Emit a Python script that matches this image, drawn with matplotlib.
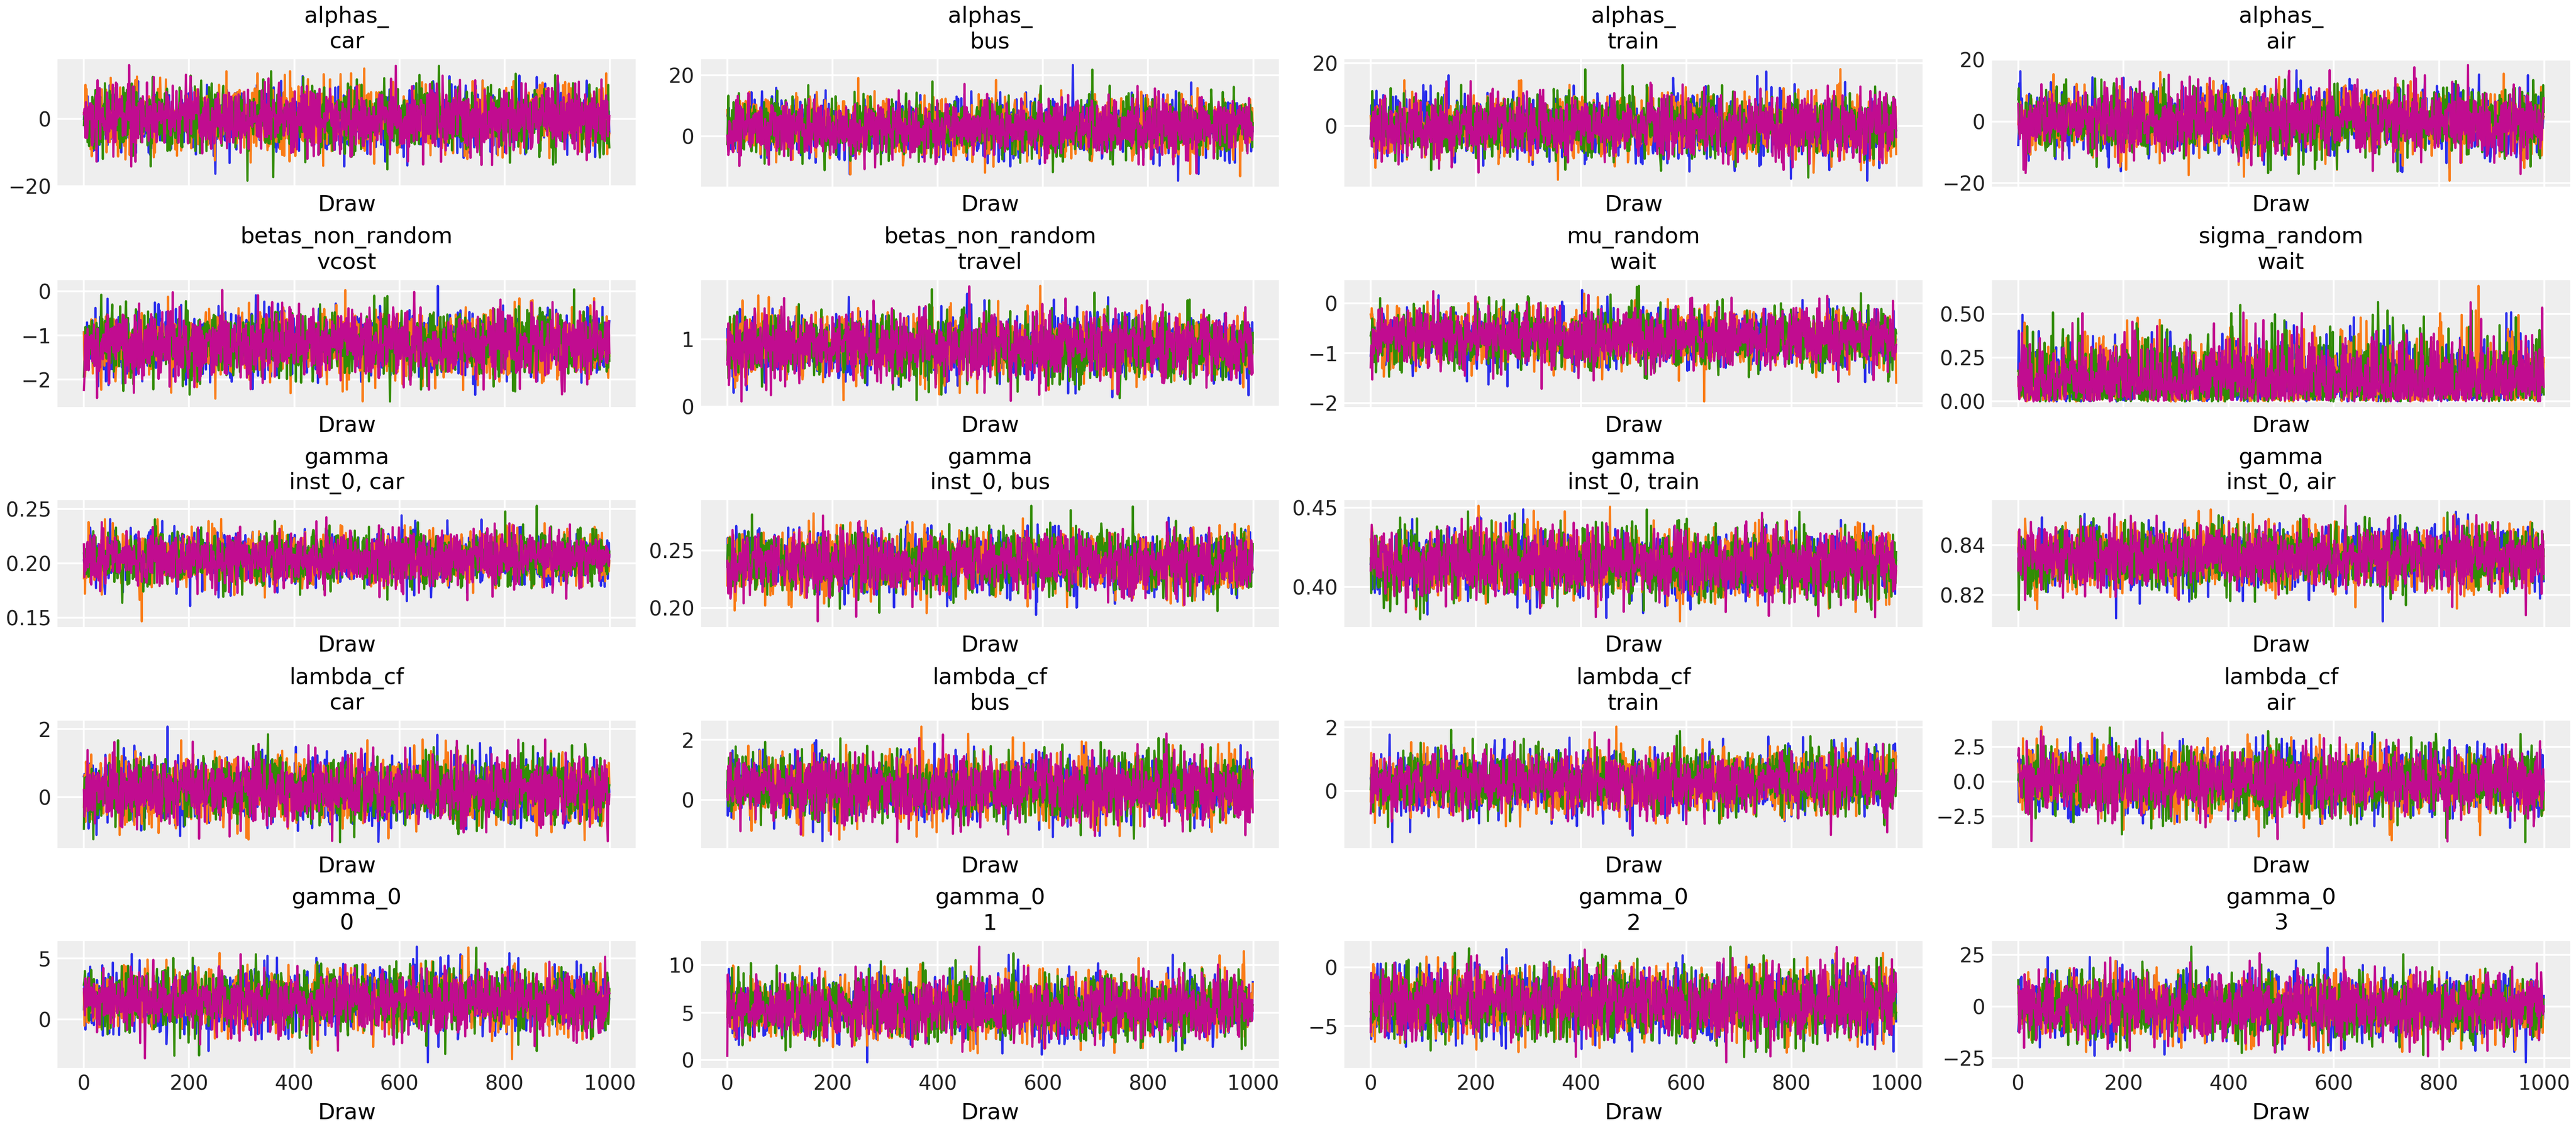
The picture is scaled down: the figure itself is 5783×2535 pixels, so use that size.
import numpy as np
import matplotlib.pyplot as plt

# panel titles (variable, coordinate)
var_names = ["alphas_", "alphas_", "alphas_", "alphas_",
             "betas_non_random", "betas_non_random", "mu_random", "sigma_random",
             "gamma", "gamma", "gamma", "gamma",
             "lambda_cf", "lambda_cf", "lambda_cf", "lambda_cf",
             "gamma_0", "gamma_0", "gamma_0", "gamma_0"]
coords = ["car", "bus", "train", "air",
          "vcost", "travel", "wait", "wait",
          "inst_0, car", "inst_0, bus", "inst_0, train", "inst_0, air",
          "car", "bus", "train", "air",
          "0", "1", "2", "3"]
# centre and spread of each trace
centres = [0, 3, 0, 0, -1.2, 0.9, -0.7, 0.0,
           0.205, 0.24, 0.415, 0.835, 0.2, 0.4, 0.3, 0.0,
           1.5, 5.5, -3.0, 0.0]
spreads = [5, 5, 5, 5.5, 0.4, 0.25, 0.3, 0.17,
           0.013, 0.014, 0.011, 0.0065, 0.5, 0.55, 0.5, 1.2,
           1.3, 1.7, 1.5, 8]
chain_colors = ["#2a2eec", "#fa7c17", "#328c06", "#c10c90"]
n_draws = 1000

plt.rcParams.update({
    "font.family": ["DejaVu Sans"],
    "axes.facecolor": "#eeeeee",
    "axes.edgecolor": "#eeeeee",
    "axes.grid": True,
    "grid.color": "white",
    "grid.linewidth": 1.0,
    "xtick.color": "#222222",
    "ytick.color": "#222222",
    "xtick.major.size": 0,
    "ytick.major.size": 0,
    "font.size": 11,
})

# the draws themselves cannot be read off the picture; stand-in chains
rng = np.random.default_rng(7)
draws = np.arange(n_draws)

fig, axes = plt.subplots(5, 4, figsize=(19.277, 8.45), dpi=300,
                         sharex=True, constrained_layout=True)
for i, ax in enumerate(axes.flat):
    for c, col in enumerate(chain_colors):
        y = rng.standard_normal(n_draws) * spreads[i]
        if var_names[i] == "sigma_random":
            y = np.abs(y)
        ax.plot(draws, centres[i] + y, color=col, lw=1.2)
    ax.set_title(f"{var_names[i]}\n{coords[i]}", fontsize=12)
    ax.set_xlabel("Draw", fontsize=12)
    ax.tick_params(labelsize=11)
    ax.tick_params(axis="x", labelbottom=(i >= 16))
    for s in ax.spines.values():
        s.set_visible(False)

fig.savefig("out.png")
